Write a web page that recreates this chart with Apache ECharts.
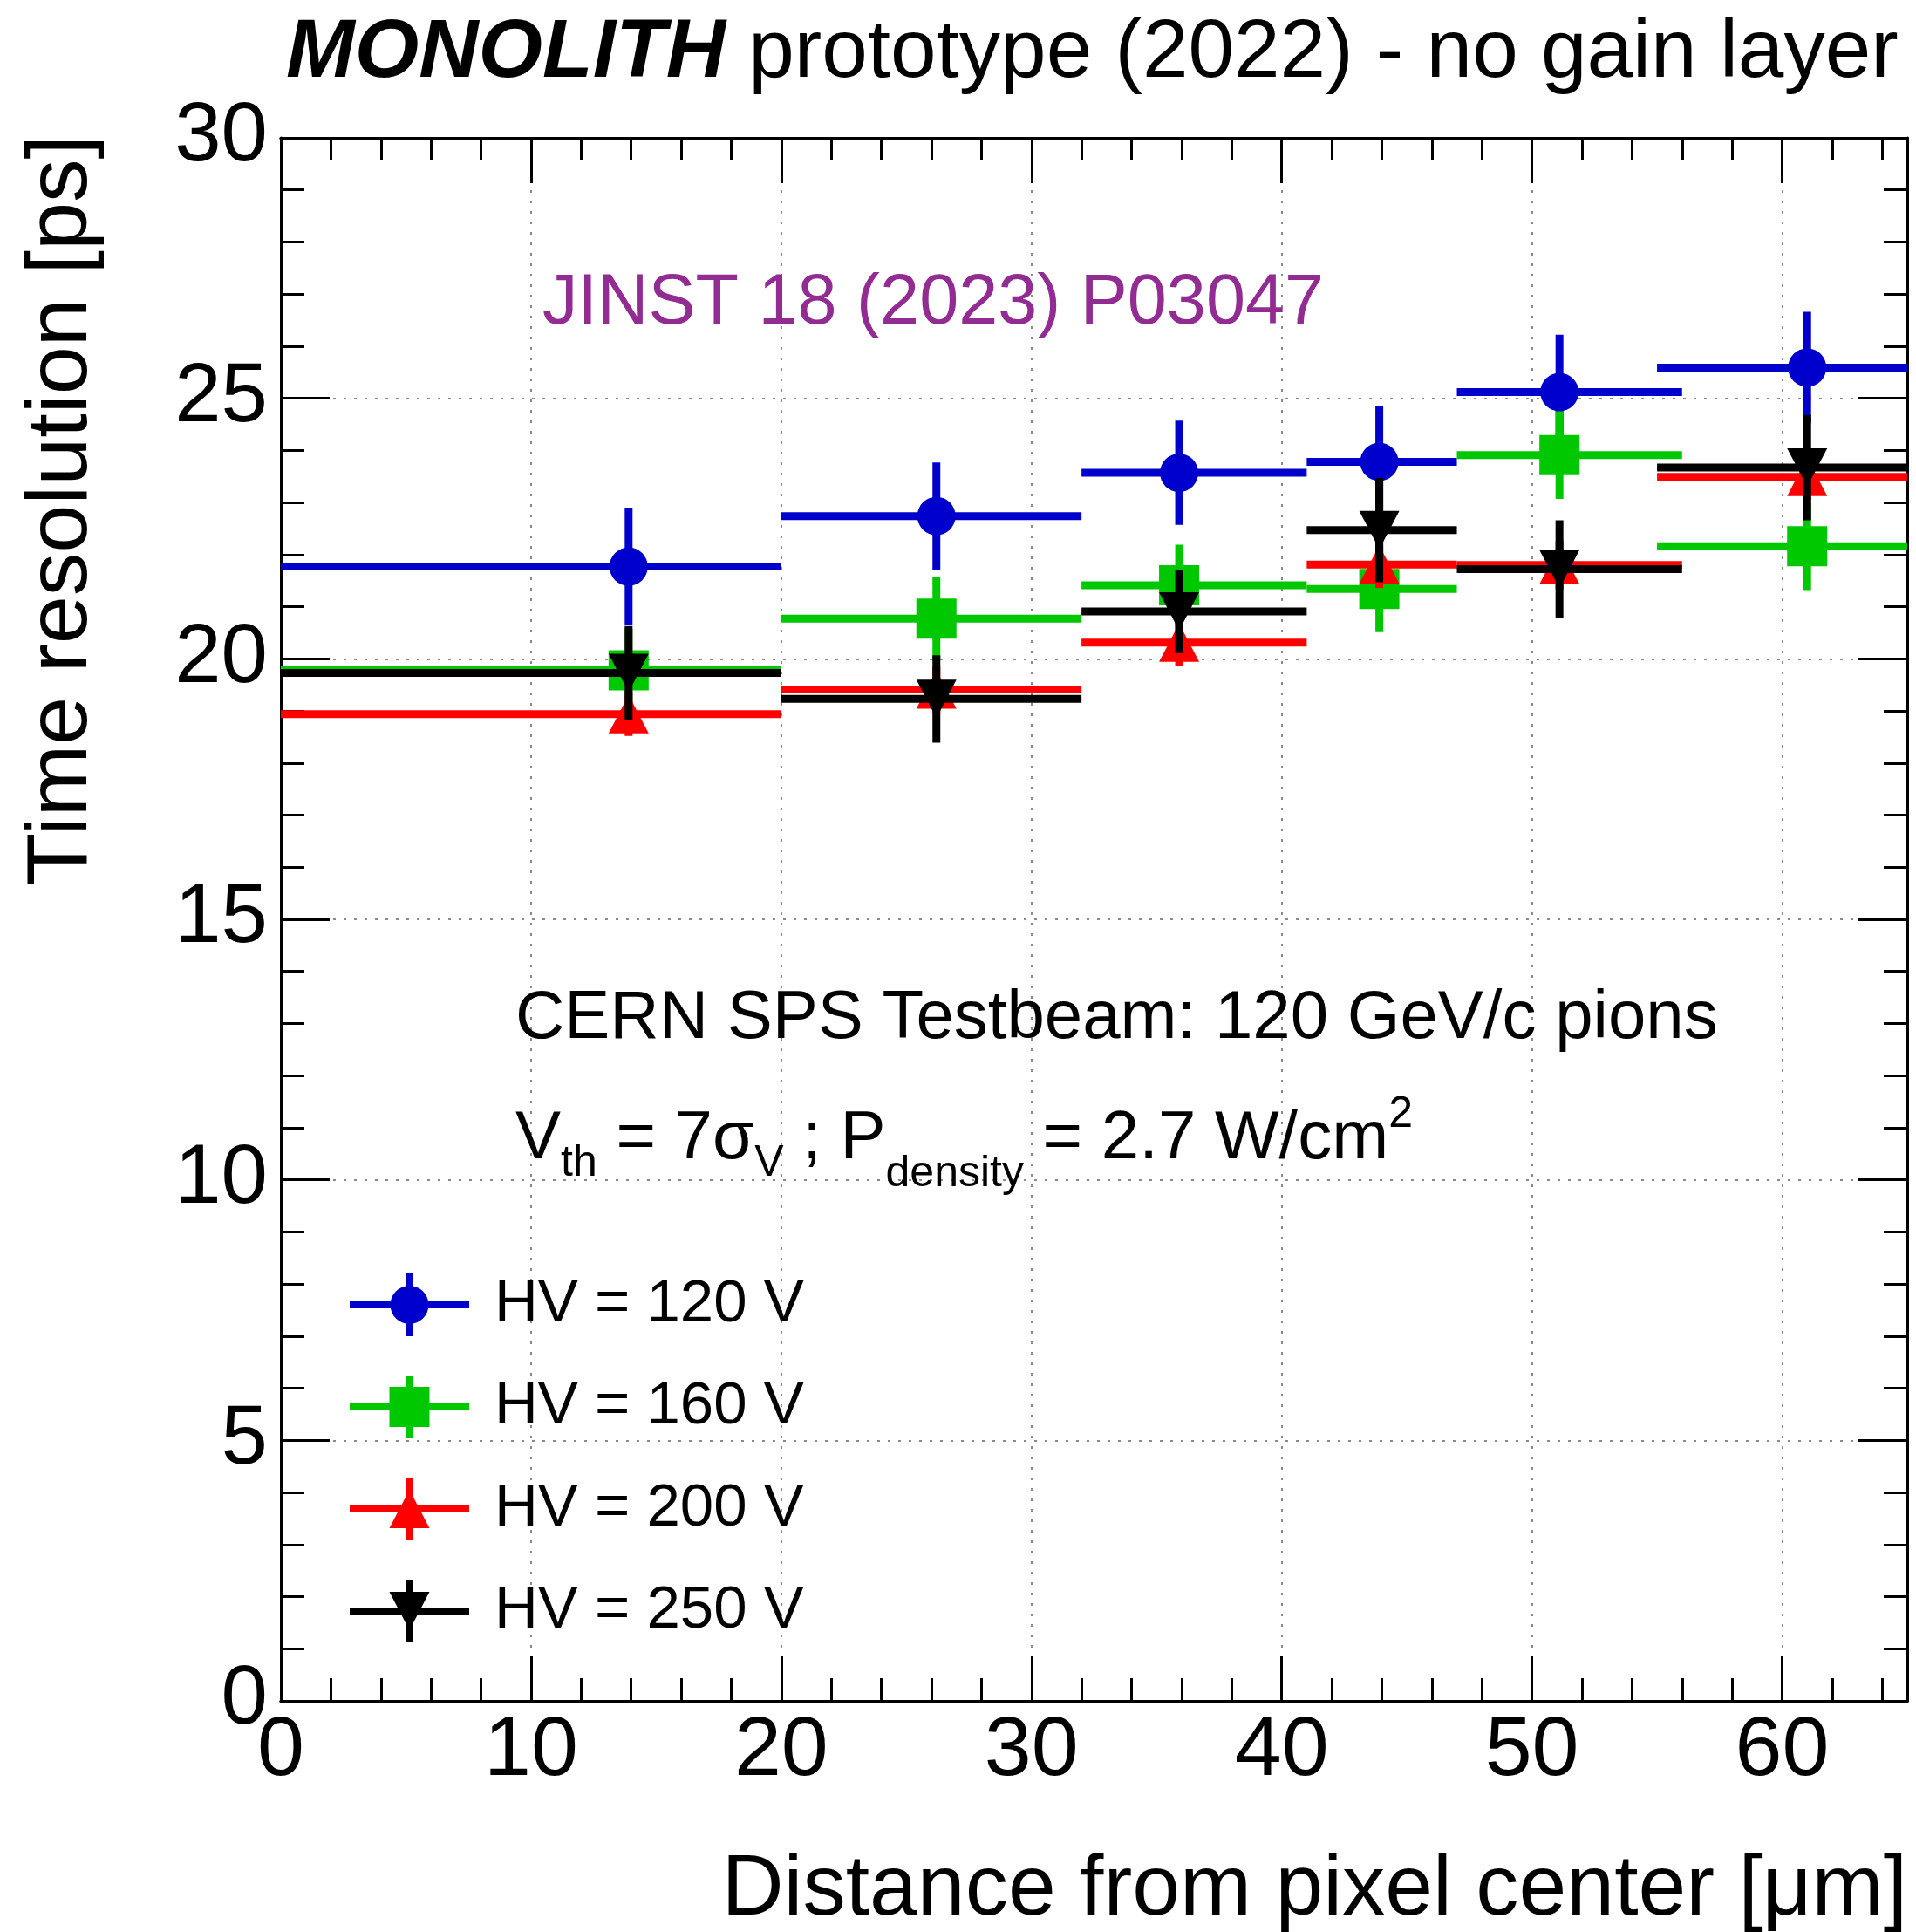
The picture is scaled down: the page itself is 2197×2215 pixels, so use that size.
<!DOCTYPE html>
<html>
<head>
<meta charset="utf-8">
<script src="https://cdn.jsdelivr.net/npm/echarts@6/dist/echarts.min.js"></script>
<style>
  html, body { margin: 0; padding: 0; background: #fff; }
  #chart { width: 2197px; height: 2215px; }
</style>
</head>
<body>
<div id="chart"></div>
<script>
const FONT = 'Liberation Sans';

// Bin edges and mean positions (µm)
const binLow    = [0, 20, 32, 41, 47, 55];
const binHigh   = [20, 32, 41, 47, 56, 65];
const binCenter = [13.9, 26.2, 35.9, 43.9, 51.1, 61.0];

// Time resolution (ps) and uncertainties per bias voltage
const res120 = [21.77, 22.74, 23.57, 23.78, 25.12, 25.59];
const err120 = [1.13, 1.03, 1.00, 1.07, 1.10, 1.07];
const res160 = [19.78, 20.77, 21.41, 21.34, 23.91, 22.16];
const err160 = [0.80, 0.80, 0.78, 0.83, 0.84, 0.84];
const res200 = [18.94, 19.41, 20.31, 21.81, 21.80, 23.49];
const err200 = [0.42, 0.45, 0.45, 0.45, 0.47, 0.45];
const res250 = [19.73, 19.23, 20.91, 22.47, 21.72, 23.67];
const err250 = [0.90, 0.84, 0.80, 1.00, 0.94, 1.01];

const seriesNames  = ['HV = 120 V', 'HV = 160 V', 'HV = 200 V', 'HV = 250 V'];
const seriesColors = ['#0000cc', '#00c800', '#ff0000', '#000000'];
const seriesShapes = ['circle', 'square', 'triangleUp', 'triangleDown'];
const seriesValues = [res120, res160, res200, res250];
const seriesErrors = [err120, err160, err200, err250];

const X_MIN = 0, X_MAX = 65, Y_MIN = 0, Y_MAX = 30;
const LW = 9;

function markerShape(shape, c, color) {
  const x = c[0], y = c[1];
  switch (shape) {
    case 'circle':
      return { type: 'circle', shape: { cx: x, cy: y, r: 22 }, style: { fill: color } };
    case 'square':
      return { type: 'rect', shape: { x: x - 23, y: y - 23, width: 46, height: 46 }, style: { fill: color } };
    case 'triangleUp':
      return { type: 'polygon', shape: { points: [[x, y - 22], [x + 23, y + 22], [x - 23, y + 22]] }, style: { fill: color } };
    default:
      return { type: 'polygon', shape: { points: [[x - 23, y - 22], [x + 23, y - 22], [x, y + 22]] }, style: { fill: color } };
  }
}

function makeRender(shape) {
  return function (params, api) {
    const xc = api.value(0), y = api.value(1);
    const lo = api.value(2), hi = api.value(3), e = api.value(4);
    const pL = api.coord([lo, y]), pR = api.coord([hi, y]);
    const pT = api.coord([xc, y + e]), pB = api.coord([xc, y - e]);
    const c = api.coord([xc, y]);
    const color = api.visual('color');
    return {
      type: 'group',
      children: [
        { type: 'line', shape: { x1: pL[0], y1: pL[1], x2: pR[0], y2: pR[1] }, style: { stroke: color, lineWidth: LW } },
        { type: 'line', shape: { x1: pT[0], y1: pT[1], x2: pB[0], y2: pB[1] }, style: { stroke: color, lineWidth: LW } },
        markerShape(shape, c, color)
      ]
    };
  };
}

// Legend icons: horizontal bin line + vertical error bar + marker, in a 137x72 box
function legendIcon(shape) {
  const W = 137, H = 72, cx = W / 2, cy = H / 2, h = 4;
  let p = `M0 ${cy - h} L${W} ${cy - h} L${W} ${cy + h} L0 ${cy + h} Z `;
  p += `M${cx - h} 0 L${cx + h} 0 L${cx + h} ${H} L${cx - h} ${H} Z `;
  if (shape === 'circle') {
    p += `M${cx - 22} ${cy} A22 22 0 1 1 ${cx + 22} ${cy} A22 22 0 1 1 ${cx - 22} ${cy} Z`;
  } else if (shape === 'square') {
    p += `M${cx - 23} ${cy - 23} L${cx + 23} ${cy - 23} L${cx + 23} ${cy + 23} L${cx - 23} ${cy + 23} Z`;
  } else if (shape === 'triangleUp') {
    p += `M${cx} ${cy - 22} L${cx + 23} ${cy + 22} L${cx - 23} ${cy + 22} Z`;
  } else {
    p += `M${cx - 23} ${cy - 22} L${cx + 23} ${cy - 22} L${cx} ${cy + 22} Z`;
  }
  return 'path://' + p;
}

const axisBlack = { color: '#000', width: 3 };

function xAxisDef(pos, major) {
  return {
    type: 'value', position: pos, min: X_MIN, max: X_MAX, interval: major ? 10 : 2,
    axisLine: { show: true, onZero: false, lineStyle: axisBlack },
    axisTick: { show: true, inside: true, length: major ? 52 : 26, lineStyle: axisBlack },
    axisLabel: (major && pos === 'bottom')
      ? { show: true, fontSize: 97, fontFamily: FONT, color: '#000', margin: 10, showMaxLabel: false }
      : { show: false },
    splitLine: (major && pos === 'bottom')
      ? { show: true, lineStyle: { type: [3, 9], color: '#8a8a8a', width: 2 } }
      : { show: false }
  };
}

function yAxisDef(pos) {
  return {
    type: 'value', position: pos, min: Y_MIN, max: Y_MAX, interval: 5,
    axisLine: { show: true, onZero: false, lineStyle: axisBlack },
    axisTick: { show: true, inside: true, length: 56, lineStyle: axisBlack },
    minorTick: { show: true, splitNumber: 5, length: 27, lineStyle: axisBlack },
    axisLabel: pos === 'left'
      ? { show: true, fontSize: 96, fontFamily: FONT, color: '#000', margin: 15 }
      : { show: false },
    splitLine: pos === 'left'
      ? { show: true, lineStyle: { type: [3, 9], color: '#8a8a8a', width: 2 } }
      : { show: false }
  };
}

const series = seriesNames.map((name, k) => ({
  name: name,
  type: 'custom',
  xAxisIndex: 0,
  yAxisIndex: 0,
  itemStyle: { color: seriesColors[k] },
  encode: { x: 0, y: 1 },
  renderItem: makeRender(seriesShapes[k]),
  data: binCenter.map((x, i) => [x, seriesValues[k][i], binLow[i], binHigh[i], seriesErrors[k][i]]),
  z: 10 + k
}));

const chart = echarts.init(document.getElementById('chart'), null, { renderer: 'canvas' });
chart.setOption({
  backgroundColor: '#fff',
  animation: false,
  grid: { left: 322, right: 10, top: 158, bottom: 265, containLabel: false, outerBoundsMode: 'none' },
  xAxis: [xAxisDef('bottom', true), xAxisDef('bottom', false), xAxisDef('top', true), xAxisDef('top', false)],
  yAxis: [yAxisDef('left'), yAxisDef('right')],
  legend: {
    orient: 'vertical', left: 396, top: 1455,
    itemWidth: 137, itemHeight: 72, itemGap: 45,
    selectedMode: false,
    itemStyle: { borderWidth: 0 },
    textStyle: { fontSize: 69, fontFamily: FONT, color: '#000', padding: [0, 0, 0, 24] },
    data: seriesNames.map((n, k) => ({ name: n, icon: legendIcon(seriesShapes[k]) }))
  },
  series: series,
  graphic: [
    {
      type: 'text', x: 328, y: 62, z: 100,
      style: {
        text: '{b|MONOLITH} prototype (2022) - no gain layer',
        fontSize: 94.5, fontFamily: FONT, fill: '#000', align: 'left', verticalAlign: 'middle',
        rich: { b: { fontSize: 94.5, fontFamily: FONT, fontWeight: 'bold', fontStyle: 'italic', fill: '#000' } }
      }
    },
    {
      type: 'text', x: 72, y: 155, rotation: Math.PI / 2, z: 100,
      style: { text: 'Time resolution [ps]', fontSize: 99, fontFamily: FONT, fill: '#000', align: 'right', verticalAlign: 'middle' }
    },
    {
      type: 'text', x: 2187, y: 2168, z: 100,
      style: { text: 'Distance from pixel center [\u03bcm]', fontSize: 98.5, fontFamily: FONT, fill: '#000', align: 'right', verticalAlign: 'middle' }
    },
    {
      type: 'text', x: 622, y: 349, z: 100,
      style: { text: 'JINST 18 (2023) P03047', fontSize: 81, fontFamily: FONT, fill: '#922c93', align: 'left', verticalAlign: 'middle' }
    },
    {
      type: 'text', x: 591, y: 1168, z: 100,
      style: { text: 'CERN SPS Testbeam: 120 GeV/c pions', fontSize: 78, fontFamily: FONT, fill: '#000', align: 'left', verticalAlign: 'middle' }
    },
    {
      type: 'text', x: 591, y: 1306, z: 100,
      style: {
        text: '{m|V}{s|th}{m| = 7\u03c3}{s|V}{m| ; P}{d|density}{m| = 2.7 W/cm}{p|2}',
        fontSize: 78, fontFamily: FONT, fill: '#000', align: 'left', verticalAlign: 'middle',
        rich: {
          m: { fontSize: 78, fontFamily: FONT, fill: '#000' },
          s: { fontSize: 50, fontFamily: FONT, fill: '#000', padding: [56, 0, 0, 0] },
          d: { fontSize: 50, fontFamily: FONT, fill: '#000', padding: [80, 0, 0, 0] },
          p: { fontSize: 50, fontFamily: FONT, fill: '#000', padding: [0, 0, 56, 0] }
        }
      }
    }
  ]
});
</script>
</body>
</html>
